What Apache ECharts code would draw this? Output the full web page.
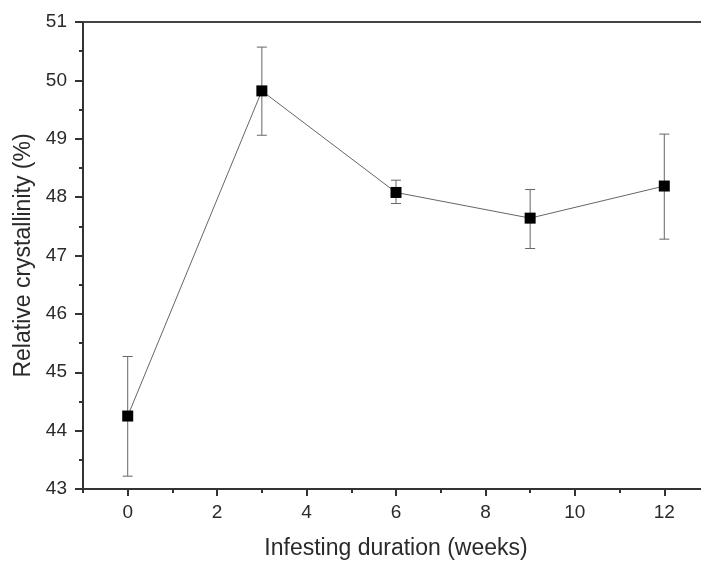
<!DOCTYPE html>
<html>
<head>
<meta charset="utf-8">
<script src="https://cdn.jsdelivr.net/npm/echarts@6/dist/echarts.min.js"></script>
<style>html,body{margin:0;padding:0;background:#fff;}#c{width:701px;height:561px;}</style>
</head>
<body>
<div id="c"></div>
<script>
var weeks = [0, 3, 6, 9, 12];
var crystallinity = [44.25, 49.82, 48.08, 47.64, 48.19];
var errLow = [43.22, 49.06, 47.89, 47.12, 47.28];
var errHigh = [45.27, 50.57, 48.29, 48.13, 49.08];
var xMajorTicks = [0, 2, 4, 6, 8, 10, 12];
var xMinorTicks = [-1, 1, 3, 5, 7, 9, 11, 13];

var font = '"Liberation Sans", Arial, sans-serif';
var txt = '#2a2a2a';
var axisCol = '#333';

var lineData = weeks.map(function (w, i) { return [w, crystallinity[i]]; });
var errData = weeks.map(function (w, i) { return [w, errLow[i], errHigh[i]]; });

var chart = echarts.init(document.getElementById('c'), null, {renderer: 'canvas'});
chart.setOption({
  backgroundColor: '#fff',
  animation: false,
  grid: {left: 83, top: 22, width: 626, height: 467, containLabel: false, outerBoundsMode: 'none'},
  xAxis: [{
    type: 'value', min: -1, max: 13,
    name: 'Infesting duration (weeks)', nameLocation: 'middle', nameGap: 48,
    nameTextStyle: {fontFamily: font, fontSize: 23, color: txt},
    axisLine: {show: true, onZero: false, lineStyle: {color: axisCol, width: 2}},
    axisTick: {show: true, customValues: xMajorTicks, length: 7, lineStyle: {color: axisCol, width: 2}},
    axisLabel: {customValues: xMajorTicks, margin: 14, fontFamily: font, fontSize: 19, color: txt},
    splitLine: {show: false}
  }, {
    type: 'value', min: -1, max: 13, position: 'bottom',
    axisLine: {show: false, onZero: false},
    axisTick: {show: true, customValues: xMinorTicks, length: 4, lineStyle: {color: axisCol, width: 2}},
    axisLabel: {show: false},
    splitLine: {show: false}
  }, {
    type: 'value', min: -1, max: 13, position: 'top',
    axisLine: {show: true, onZero: false, lineStyle: {color: '#444', width: 2}},
    axisTick: {show: false}, axisLabel: {show: false}, splitLine: {show: false}
  }],
  yAxis: {
    type: 'value', min: 43, max: 51, interval: 1,
    name: 'Relative crystallinity (%)', nameLocation: 'middle', nameGap: 48,
    nameTextStyle: {fontFamily: font, fontSize: 23, color: txt},
    axisLine: {show: true, onZero: false, lineStyle: {color: axisCol, width: 2}},
    axisTick: {show: true, length: 8, lineStyle: {color: axisCol, width: 2}},
    minorTick: {show: true, splitNumber: 2, length: 4, lineStyle: {color: axisCol, width: 2}},
    axisLabel: {margin: 16, fontFamily: font, fontSize: 19, color: txt},
    splitLine: {show: false}
  },
  series: [{
    type: 'custom',
    data: errData,
    z: 1,
    renderItem: function (params, api) {
      var x = api.value(0);
      var lo = api.coord([x, api.value(1)]);
      var hi = api.coord([x, api.value(2)]);
      var hw = 5;
      var style = {stroke: '#666', lineWidth: 1};
      return {
        type: 'group',
        children: [
          {type: 'line', shape: {x1: lo[0], y1: lo[1], x2: hi[0], y2: hi[1]}, style: style},
          {type: 'line', shape: {x1: lo[0] - hw, y1: lo[1], x2: lo[0] + hw, y2: lo[1]}, style: style},
          {type: 'line', shape: {x1: hi[0] - hw, y1: hi[1], x2: hi[0] + hw, y2: hi[1]}, style: style}
        ]
      };
    }
  }, {
    type: 'line',
    data: lineData,
    z: 3,
    symbol: 'rect',
    symbolSize: 11,
    itemStyle: {color: '#000'},
    lineStyle: {color: '#666', width: 1}
  }]
});
</script>
</body>
</html>
